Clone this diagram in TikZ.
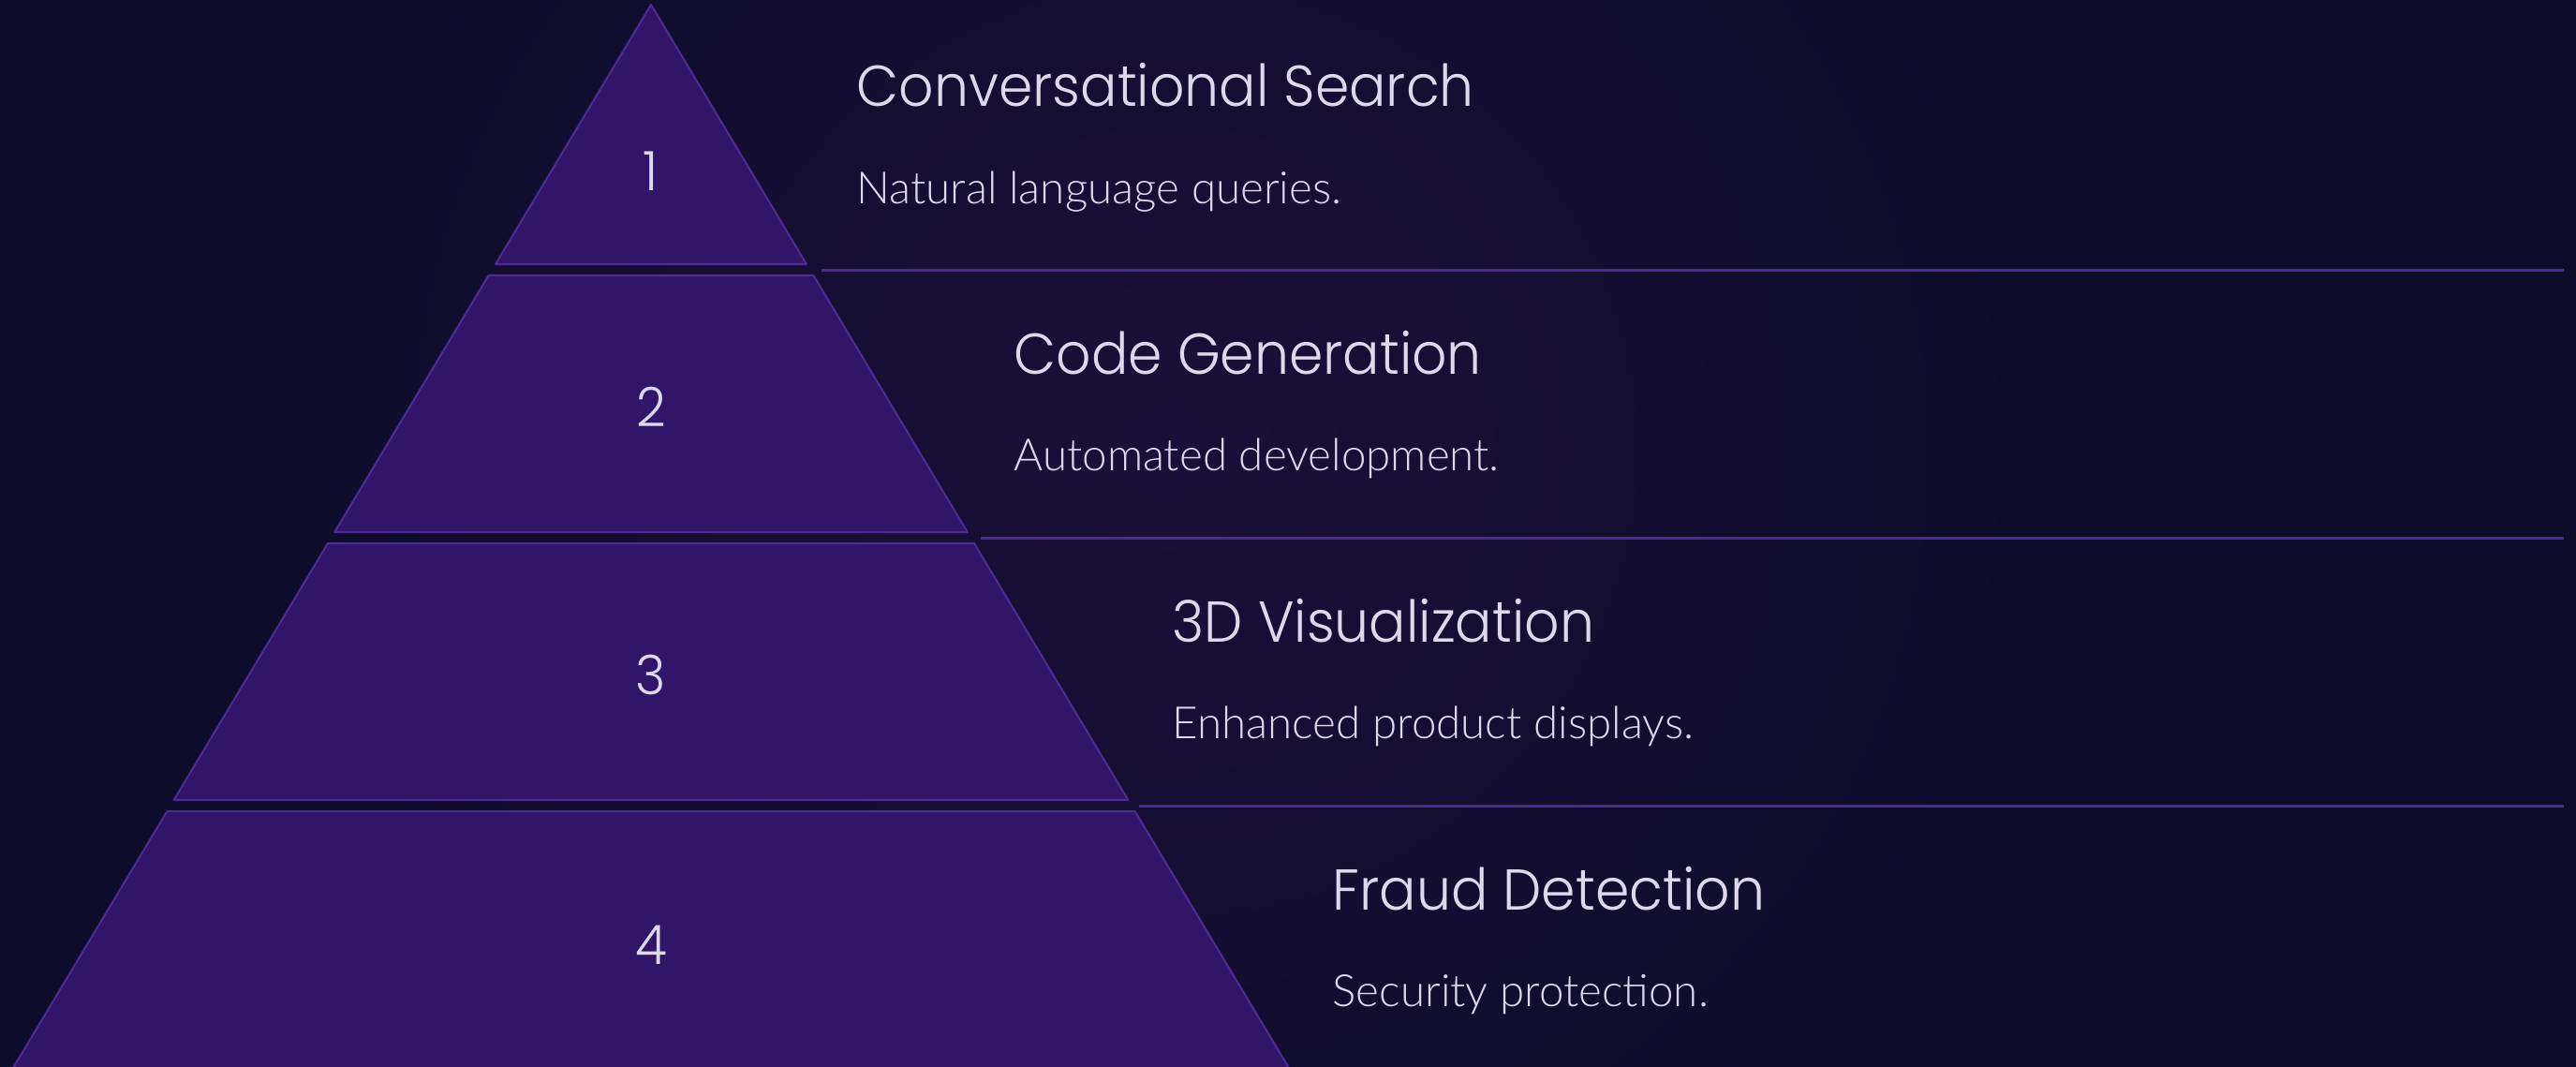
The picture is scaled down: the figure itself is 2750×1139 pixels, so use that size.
\documentclass[tikz,border=0pt]{standalone}
\usepackage{fontspec}
\setmainfont{Lato}
\newfontfamily\titlefont{Poppins Light}[FakeStretch=0.95]
\newfontfamily\descfont{Lato Light}
\usepackage{tikz}
\usetikzlibrary{calc}
\usetikzlibrary{positioning}
\definecolor{fondo}{HTML}{0D0C2A}
\definecolor{brillo}{HTML}{1A0F38}
\definecolor{capa}{HTML}{311568}
\definecolor{borde}{HTML}{4A2C92}
\definecolor{texto}{HTML}{DDD8EE}

\begin{document}
\begin{tikzpicture}[x=0.01cm,y=-0.01cm,
	titulo/.style={anchor=base west,inner sep=0pt,text=texto,font=\titlefont\fontsize{17.5}{20}\selectfont},
	desc/.style={anchor=base west,inner sep=0pt,text=texto,font=\descfont\fontsize{13.5}{16}\selectfont},
	numero/.style={anchor=base,inner sep=0pt,text=texto,font=\titlefont\fontsize{16.5}{20}\selectfont},
	capa/.style={fill=capa,draw=borde,line width=0.6pt,line join=round},
	linea/.style={draw=borde,line width=0.85pt}]
				\useasboundingbox (0,0) rectangle (2750,1139);
				\clip (0,0) rectangle (2750,1139);
				\fill[fondo] (0,0) rectangle (2750,1139);
				\shade[inner color=brillo,outer color=fondo] (1250,480) circle (1000);
				% piramide
				\draw[capa] (695,5) -- (861,282) -- (529,282) -- cycle;
				\draw[capa] (521.6,294) -- (868.4,294) -- (1032.8,568) -- (357.2,568) -- cycle;
				\draw[capa] (350,580) -- (1040,580) -- (1204.4,854) -- (185.6,854) -- cycle;
				\draw[capa] (178.4,866) -- (1211.6,866) -- (1377.2,1142) -- (12.8,1142) -- cycle;
				\path 
				(695,203) node(n1) [numero] {1}
				(695,455) node(n2) [numero] {2}
				(695,741) node(n3) [numero] {3}
				(695,1029) node(n4) [numero] {4};
				% separadores
				\path
				(877,288) coordinate (s1a) (2737,288) coordinate (s1b)
				(1047,574) coordinate (s2a) (2737,574) coordinate (s2b)
				(1216,860) coordinate (s3a) (2737,860) coordinate (s3b);
				\draw[linea] (s1a) -- (s1b);
				\draw[linea] (s2a) -- (s2b);
				\draw[linea] (s3a) -- (s3b);
				% textos
				\path 
				(914,113) node(t1) [titulo] {Conversational Search}
				(914,217) node(d1) [desc] {Natural language queries.}
				(1082,399) node(t2) [titulo] {Code Generation}
				(1082,502) node(d2) [desc] {Automated development.}
				(1251,685) node(t3) [titulo] {3D Visualization}
				(1251,788) node(d3) [desc] {Enhanced product displays.}
				(1422,971) node(t4) [titulo] {Fraud Detection}
				(1422,1074) node(d4) [desc] {Security protection.};
			\end{tikzpicture}
\end{document}
